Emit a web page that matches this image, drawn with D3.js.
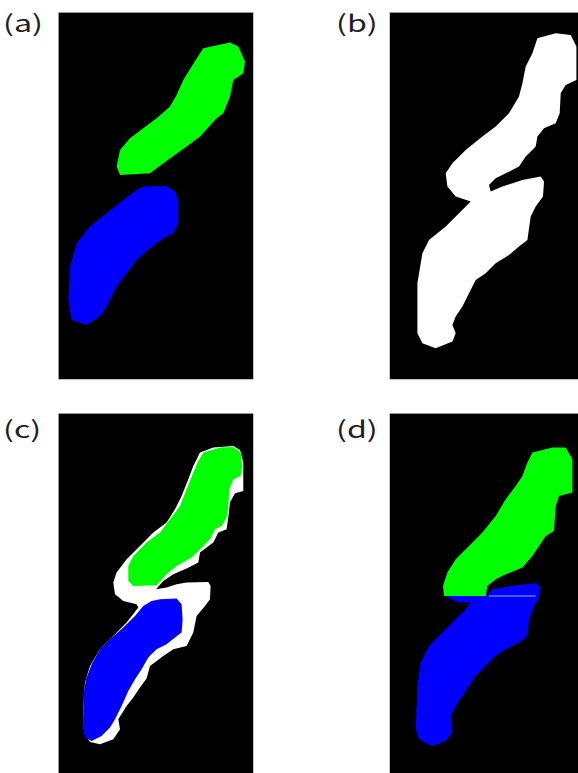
<!DOCTYPE html>
<html>
<head>
<meta charset="utf-8">
<script src="https://cdn.jsdelivr.net/npm/d3@7"></script>
<style>
  html, body { margin: 0; padding: 0; background: #fff; }
  svg { display: block; }
  .lbl { font-family: "Noto Sans CJK KR", "Open Sans", sans-serif; font-size: 23px; fill: #1e1e1e; }
</style>
</head>
<body>
<script>
// mask outlines, in mask pixel units (x right, y down) inside each panel
const panelLabels = ["(a)", "(b)", "(c)", "(d)"];

const greenA = [[145,36],[171.7,30.3],[180,34.3],[186.7,49.3],[185,61],[175,67.7],[171.7,84.3],[165,101],
  [158.3,106],[141.7,124.3],[128.3,134.3],[105,151],[91.7,161],[61.7,162.7],[58.3,154.3],[61.7,137.7],
  [71.7,126],[85,116],[98.3,106],[111.7,94.3],[118.3,82.7],[125,67.7],[133.3,54.3],[141.7,41]];

const blueA = [[85,174.3],[108.3,173.7],[116.7,179.3],[120,187.7],[120,211],[115,221],[105,226],[91.7,236],
  [78.3,247.7],[68.3,261],[58.3,274.3],[48.3,294.3],[41.7,304.3],[28.3,312.7],[13.3,307.7],[10,287.7],
  [11.7,254.3],[18.3,231],[31.7,214.3],[48.3,201],[65,187.7],[78.3,177.7]];

const whiteB = [[147.7,26],[166,21],[181,22.7],[186.7,34.3],[186.7,67.7],[176,72.7],[171,81],[170,101],
  [166,111],[154.3,116],[147.7,124.3],[146,134.3],[136,144.3],[129.3,154.3],[116,161],[106,166],
  [99.3,172.7],[101,179.3],[112.7,174.3],[132.7,167.7],[151,164.3],[154.3,169.3],[153.3,184.3],
  [146,194.3],[141,204.3],[137.7,227.7],[129.3,234.3],[119.3,242.7],[106,251],[96,261],[86,267.7],
  [79.3,281],[72.7,294.3],[66,304.3],[62.7,312.7],[66,321],[62.7,329.3],[46,336],[32.7,331],
  [27.7,321],[27.7,271],[32.7,241],[39.3,227.7],[56,214.3],[69.3,201],[81,189.3],[66,184.3],
  [57.7,174.3],[56,161],[62.7,151],[76,137.7],[92.7,124.3],[106,114.3],[119.3,101],[129.3,84.3],
  [132.7,71],[136,54.3],[142.7,41]];

const whiteC = [[141.7,39.3],[155,34.3],[175,32.7],[181.7,36.7],[185,49.3],[185,77.7],[176.7,80],
  [171.7,89.3],[170,104.3],[168.3,116],[160,119.3],[155,129.3],[141.7,139.3],[140,149.3],[128.3,155.3],
  [115,161],[105,167.7],[97.7,176],[108.3,174.3],[118.3,171],[128.3,169.3],[150,168.7],[152.3,172.7],
  [151.7,186],[146.7,192.7],[138.3,202.7],[135,219.3],[128.3,232.7],[115,236],[105,242.7],[91.7,252.7],
  [88.3,265.3],[81.7,274.3],[75,284.3],[68.3,292.7],[60,306],[61.7,316],[55,326],[41.7,331],
  [31.7,328.7],[25.7,319.3],[25,292.7],[26.7,269.3],[31.7,252.7],[41.7,236],[55,222.7],[68.3,209.3],
  [80,194.3],[78.3,191],[65,187.7],[56.7,181],[55,169.3],[58.3,159.3],[68.3,146],[81.7,132.7],
  [95,119.3],[108.3,109.3],[116.7,96],[123.3,82.7],[130,66],[135,52.7]];

const greenC = [[145,39.3],[161.7,34.3],[175,33.7],[182.3,39.3],[184,52.7],[182.3,62.7],[175,66],
  [171,76],[170,92.7],[168.3,104.3],[163.3,112.7],[156.7,116],[151.7,126],[141.7,136],[133.3,144.3],
  [118.3,152.7],[108.3,161],[98.3,172],[75,172.7],[70,167.7],[70,152.7],[75,142.7],[88.3,129.3],
  [101.7,119.3],[111.7,106],[121.7,92.7],[128.3,76],[135,59.3],[140,47.7]];

const blueC = [[101.7,186],[118.3,185.3],[123.3,191],[124.3,206],[123.3,219.3],[116.7,224.3],[108.3,231],
  [98.3,236],[90,244.3],[83.3,256],[76.7,266],[70,277.7],[63.3,292.7],[56.7,306],[51.7,314.3],
  [43.3,322.7],[33.3,327.7],[26.7,324.3],[25,316],[25,282.7],[27.7,266],[33.3,251],[41.7,236],
  [51.7,226],[65,214.3],[76.7,202.7],[85,192.7],[93.3,187.7]];

const greenD = [[142.7,39.3],[162.7,34.3],[176,34.3],[182.7,46],[182.7,79.3],[169.3,82.7],[166,92.7],
  [164.3,117.7],[156,122.7],[149.3,132.7],[142.7,142.7],[132.7,154.3],[116,161],[106,166],[97.7,172.7],
  [96,182.7],[54.3,182.7],[53.3,172.7],[57.7,159.3],[66,146],[79.3,132.7],[92.7,119.3],[106,102.7],
  [116,86],[126,72.7],[132.7,62.7],[137.7,49.3]];

const blueD = [[56,182.7],[96,182.7],[102.7,176],[126,172],[146,170],[151,174.3],[148.7,186],[144.3,192.7],
  [139.3,206],[137.7,222.7],[129.3,229.3],[116,236],[106,242.7],[96,252.7],[86,262.7],[79.3,272.7],
  [72.7,282.7],[66,292.7],[61,302.7],[62.7,319.3],[56,327.7],[42.7,332.7],[29.3,326],[26,316],
  [27.7,272.7],[31,249.3],[39.3,232.7],[52.7,219.3],[66,206],[76,196],[81,189.3],[69.3,189.3],[61,186]];

const cutLineD = [[99,182.7],[146,182.7]];

const W = 578, H = 773;

const svg = d3.select("body").append("svg")
  .attr("width", W)
  .attr("height", H);

// each panel: label, frame and the masks drawn in it
const panels = [
  { label: panelLabels[0], x: 58.3, y: 12.3, w: 195, h: 367, lx: 3, ly: 32,
    shapes: [{ pts: greenA, fill: "#00ff00" }, { pts: blueA, fill: "#0000ff" }] },
  { label: panelLabels[1], x: 389.7, y: 12.3, w: 189, h: 367, lx: 336, ly: 32,
    shapes: [{ pts: whiteB, fill: "#ffffff" }] },
  { label: panelLabels[2], x: 58.3, y: 413.3, w: 195, h: 367, lx: 3, ly: 438,
    shapes: [{ pts: whiteC, fill: "#ffffff" }, { pts: greenC, fill: "#00ff00" }, { pts: blueC, fill: "#0000ff" }] },
  { label: panelLabels[3], x: 389.7, y: 413.3, w: 189, h: 367, lx: 336, ly: 438,
    shapes: [{ pts: greenD, fill: "#00ff00" }, { pts: blueD, fill: "#0000ff" }], cut: cutLineD }
];

panels.forEach(function (p) {
  const x = d3.scaleLinear().domain([0, p.w]).range([p.x, p.x + p.w]);
  const y = d3.scaleLinear().domain([0, p.h]).range([p.y, p.y + p.h]);

  // the source figure is stretched sideways, so the labels are too
  svg.append("text")
    .attr("class", "lbl")
    .attr("transform", "translate(" + p.lx + "," + p.ly + ") scale(1.4,1)")
    .text(p.label);

  svg.append("rect")
    .attr("x", x(0))
    .attr("y", y(0))
    .attr("width", x(p.w) - x(0))
    .attr("height", y(p.h) - y(0))
    .attr("fill", "#000")
    .attr("stroke", "#ccc")
    .attr("stroke-width", 0.6);

  const line = d3.line()
    .x(d => x(d[0]))
    .y(d => y(d[1]))
    .curve(d3.curveLinearClosed);

  svg.append("g")
    .selectAll("path")
    .data(p.shapes)
    .enter()
    .append("path")
    .attr("d", d => line(d.pts))
    .attr("fill", d => d.fill);

  if (p.cut) {
    svg.append("path")
      .attr("d", d3.line().x(d => x(d[0])).y(d => y(d[1]))(p.cut))
      .attr("stroke", "#8fb4e6")
      .attr("stroke-width", 1)
      .attr("fill", "none");
  }
});
</script>
</body>
</html>
